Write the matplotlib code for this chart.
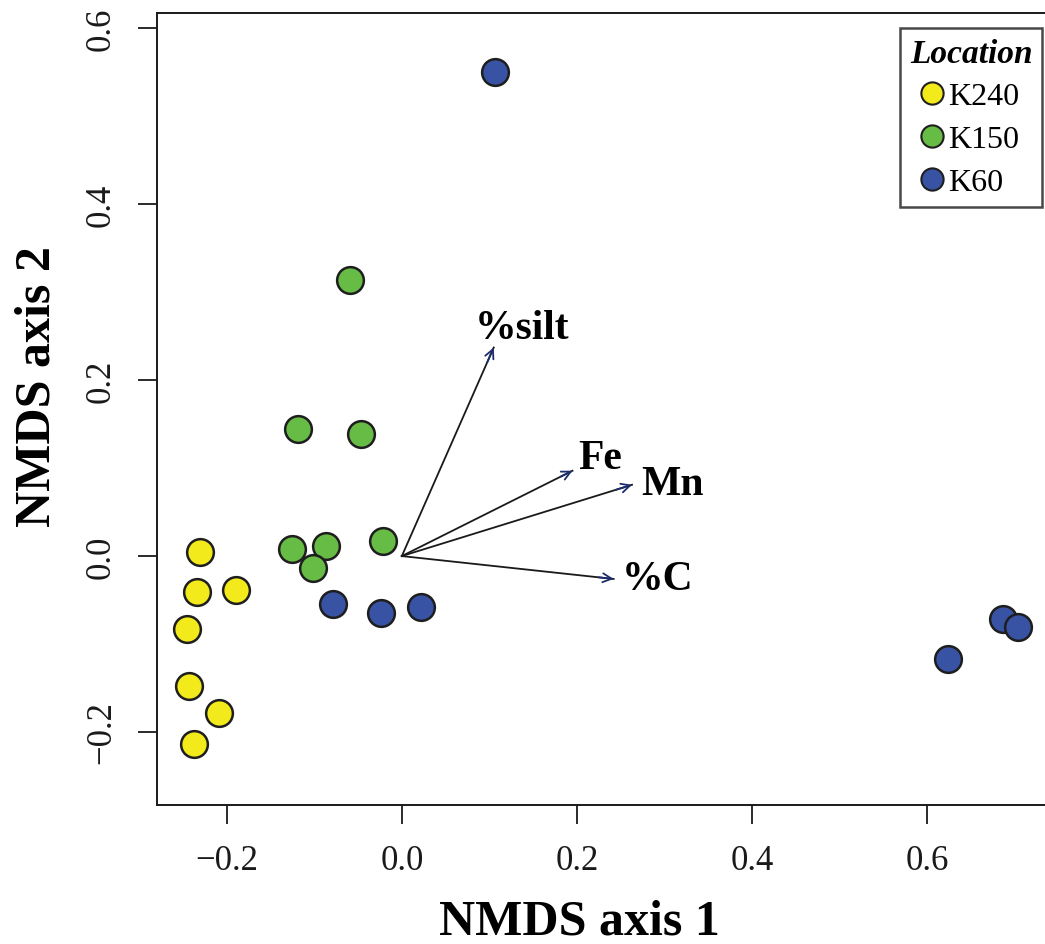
import matplotlib.pyplot as plt
from matplotlib.lines import Line2D

plt.rcParams['font.family'] = ['Liberation Serif', 'DejaVu Serif']

# site scores on the first two NMDS axes
k240_x = [-0.231, -0.234, -0.190, -0.246, -0.243, -0.209, -0.237]
k240_y = [0.005, -0.041, -0.039, -0.083, -0.148, -0.178, -0.214]

k150_x = [-0.059, -0.119, -0.047, -0.126, -0.087, -0.102, -0.022]
k150_y = [0.314, 0.144, 0.139, 0.008, 0.011, -0.013, 0.017]

k60_x = [0.106, -0.079, -0.024, 0.022, 0.624, 0.687, 0.704]
k60_y = [0.550, -0.054, -0.065, -0.058, -0.117, -0.072, -0.081]

# fitted environmental vectors
env_names = ['%silt', 'Fe', 'Mn', '%C']
env_x = [0.105, 0.195, 0.263, 0.242]
env_y = [0.237, 0.097, 0.081, -0.026]
label_x = [0.083, 0.201, 0.274, 0.251]
label_y = [0.259, 0.112, 0.082, -0.026]

groups = ['K240', 'K150', 'K60']
colors = ['#F3EA1C', '#67BC46', '#3852A4']
edge = '#1e1e1e'

fig = plt.figure(figsize=(10.45, 9.45), dpi=100)
ax = fig.add_axes([0.150, 0.147, 0.856, 0.838])

for xs, ys, c in zip([k240_x, k150_x, k60_x], [k240_y, k150_y, k60_y], colors):
    ax.scatter(xs, ys, s=370, c=c, edgecolors=edge, linewidths=1.8, zorder=3)

for name, x, y, lx, ly in zip(env_names, env_x, env_y, label_x, label_y):
    ax.plot([0, x], [0, y], color='#1a1a1a', lw=1.3, zorder=2)
    ax.annotate('', xy=(x, y), xytext=(0.93 * x, 0.93 * y),
                arrowprops=dict(arrowstyle='->', color='#1c2c6c', lw=1.3,
                                mutation_scale=16, shrinkA=0, shrinkB=0))
    ax.text(lx, ly, name, fontsize=30, fontweight='bold', ha='left', va='center')

ax.set_xlim(-0.280, 0.742)
ax.set_ylim(-0.283, 0.617)
ax.set_xticks([-0.2, 0.0, 0.2, 0.4, 0.6])
ax.set_yticks([-0.2, 0.0, 0.2, 0.4, 0.6])
ax.set_xticklabels(['\u22120.2', '0.0', '0.2', '0.4', '0.6'])
ax.set_yticklabels(['\u22120.2', '0.0', '0.2', '0.4', '0.6'], rotation=90, va='center')
ax.tick_params(labelsize=25, length=14, width=1.3, pad=14, colors='#1a1a1a')
for sp in ax.spines.values():
    sp.set_linewidth(1.4)
    sp.set_color('#1a1a1a')

ax.set_xlabel('NMDS axis 1', fontsize=36, fontweight='bold')
ax.set_ylabel('NMDS axis 2', fontsize=36, fontweight='bold')
ax.xaxis.set_label_coords(0.472, -0.118)
ax.yaxis.set_label_coords(-0.108, 0.53)

handles = [Line2D([], [], ls='', marker='o', markersize=16, markerfacecolor=c,
                  markeredgecolor=edge, markeredgewidth=1.5) for c in colors]
leg = ax.legend(handles, groups, title='Location', loc='upper right',
                bbox_to_anchor=(1042 / 1045, 1 - 29 / 945),
                bbox_transform=fig.transFigure, borderaxespad=0,
                fontsize=23, frameon=True, fancybox=False, edgecolor='#1a1a1a',
                handlelength=0.6, handletextpad=0.2, borderpad=0.3,
                labelspacing=0.42)
leg.get_frame().set_linewidth(1.8)
leg.get_title().set_fontsize(24)
leg.get_title().set_fontweight('bold')
leg.get_title().set_fontstyle('italic')

fig.savefig('out.png', dpi=100)
